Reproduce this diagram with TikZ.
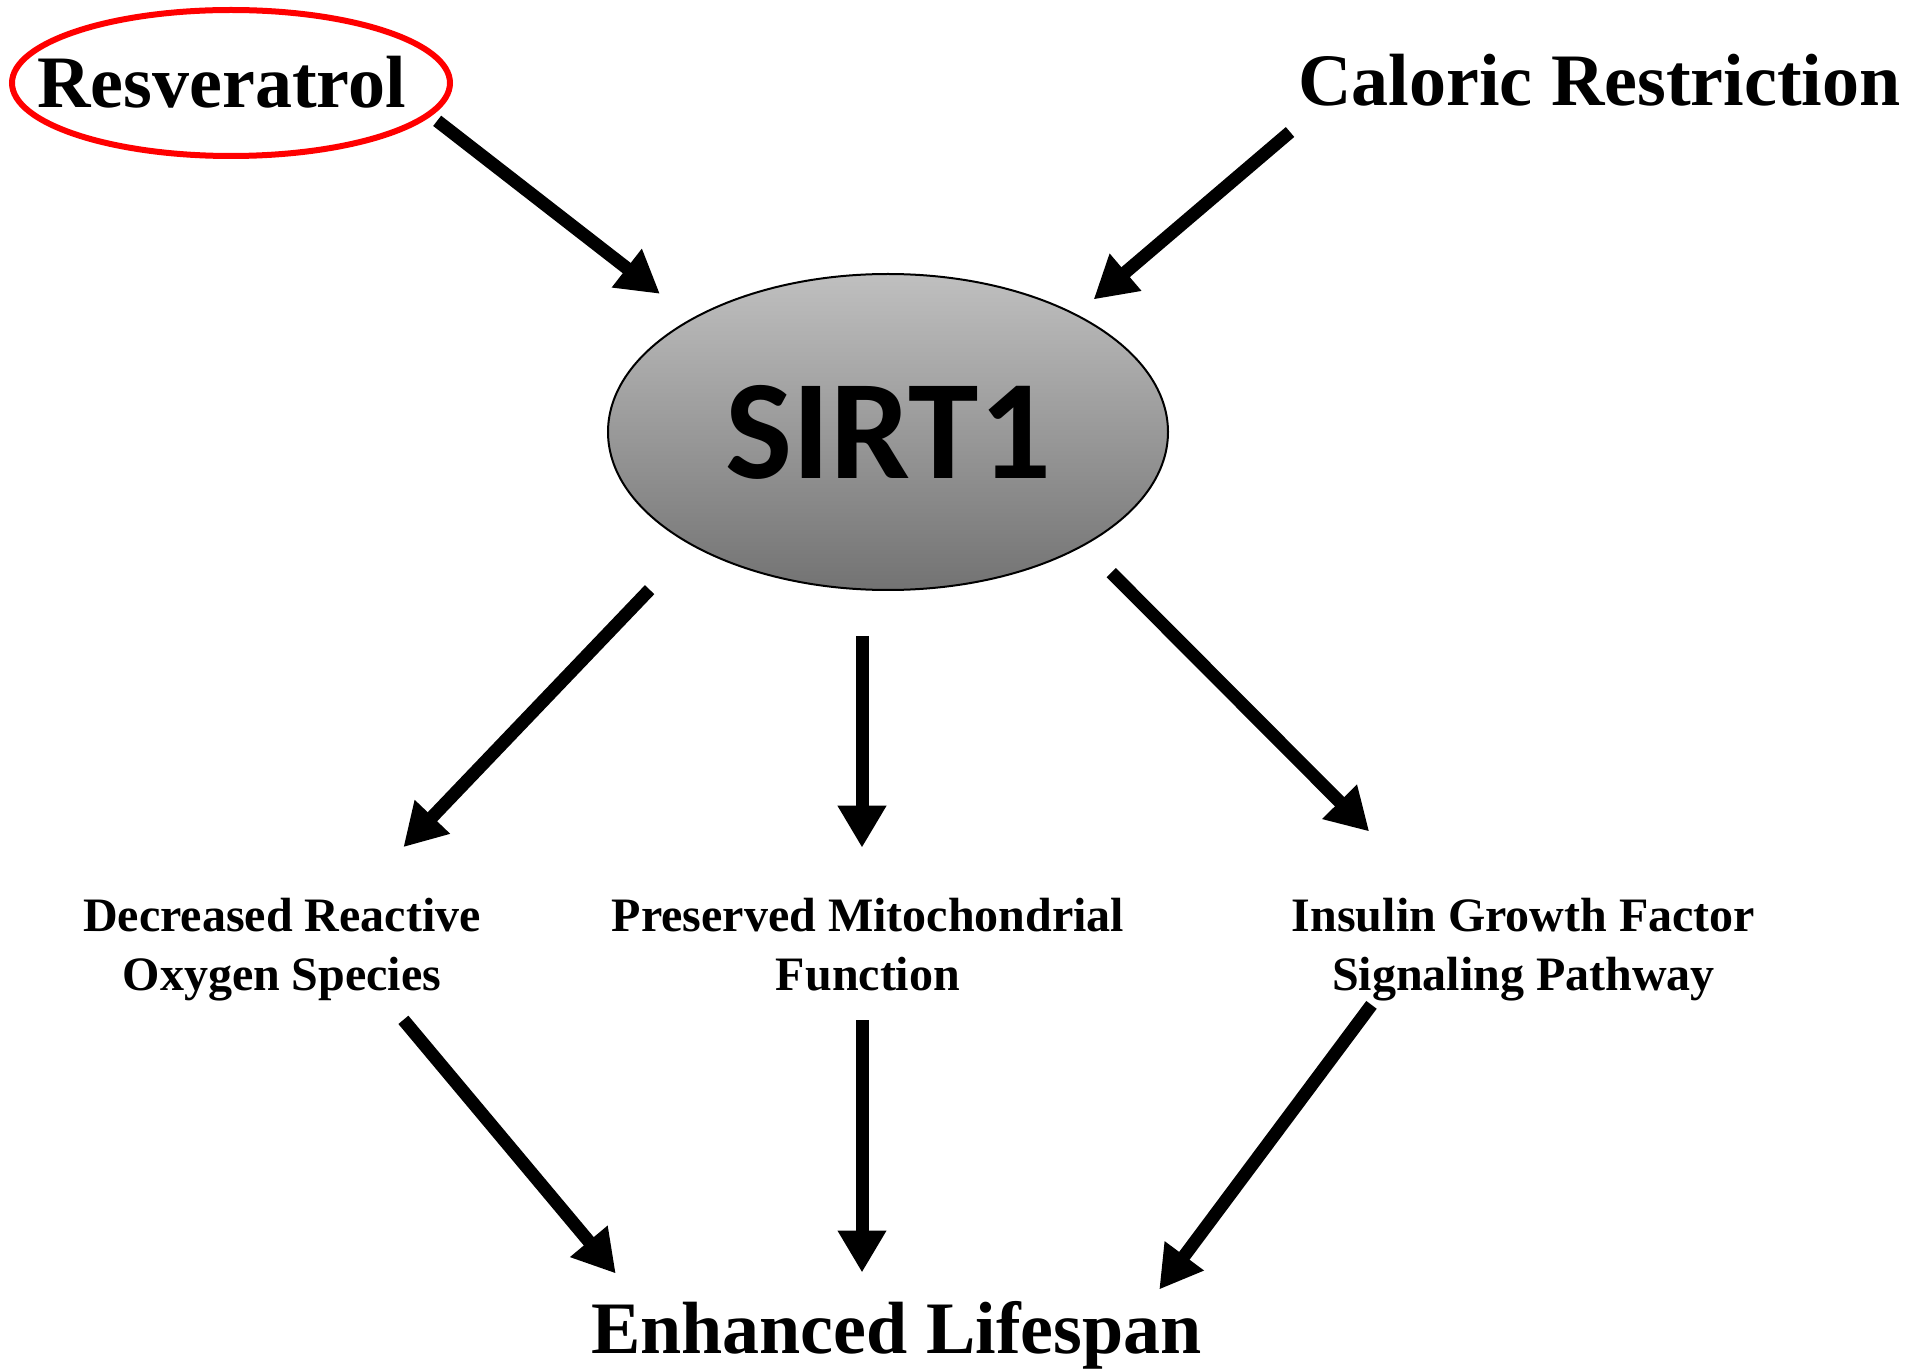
\documentclass[tikz,border=0pt]{standalone}
\usepackage{fontspec}
\setmainfont{Liberation Serif}
\newfontfamily\sirtfont{Carlito}
\usetikzlibrary{arrows.meta,shapes.geometric}

\begin{document}
\begin{tikzpicture}[x=.5pt, y=-.5pt,
    arr/.style={-{Triangle[length=21pt,width=23pt]}, line width=6.5pt},
    big/.style={font=\fontsize{37}{44}\selectfont\bfseries, inner sep=0pt},
    small/.style={font=\fontsize{24}{29.5}\selectfont\bfseries, align=center, inner sep=0pt}]
    \useasboundingbox (0,0) rectangle (1929,1369);
    % inputs
    \node[ellipse, draw=red, line width=3pt, minimum width=219pt, minimum height=73pt,
      inner sep=0pt, outer sep=0pt] (ring) at (231,83) {};
    \node[big, anchor=base] (res) at (221.5,108) {Resveratrol};
    \node[big, anchor=base] (cal) at (1599.5,106) {Caloric Restriction};
    \node[ellipse, draw, line width=1pt, top color=black!25, bottom color=black!55,
      minimum width=280pt, minimum height=158pt, inner sep=0pt, outer sep=0pt,
      font=\sirtfont\fontsize{71}{80}\selectfont\bfseries] (sirt) at (888,432) {SIRT1};
    % effects
    \node[small] (ros) at (282,950) {Decreased Reactive\\Oxygen Species};
    \node[small] (mito) at (868,945) {Preserved Mitochondrial\\Function};
    \node[small] (igf) at (1523.5,950) {Insulin Growth Factor\\Signaling Pathway};
    \node[big, anchor=base] (life) at (896.5,1353) {Enhanced Lifespan};
    % arrows
    \draw[arr, shorten <=5.3pt, shorten >=20.5pt] (ring.-9) -- (sirt.150.5);
    \draw[arr, shorten >=11.8pt] ([shift={(-8,26)}]cal.base west) -- (sirt.32);
    \draw[arr, shorten <=30.9pt] (sirt.-150.25) -- ([shift={(121.4,-51)}]ros.north);
    \draw[arr] ([shift={(-26,46)}]sirt.south) -- ([shift={(-6,-50.5)}]mito.north);
    \draw[arr, shorten <=19.5pt] (sirt.-30.4) -- ([shift={(-154.3,-66.7)}]igf.north);
    \draw[arr] ([shift={(121.4,18)}]ros.south) -- ([shift={(25,-27)}]life.north west);
    \draw[arr] ([shift={(-6,28.6)}]mito.south) -- ([shift={(-34.5,-28)}]life.north);
    \draw[arr] ([shift={(-152,3)}]igf.south) -- ([shift={(-43,-11)}]life.north east);
\end{tikzpicture}
\end{document}
